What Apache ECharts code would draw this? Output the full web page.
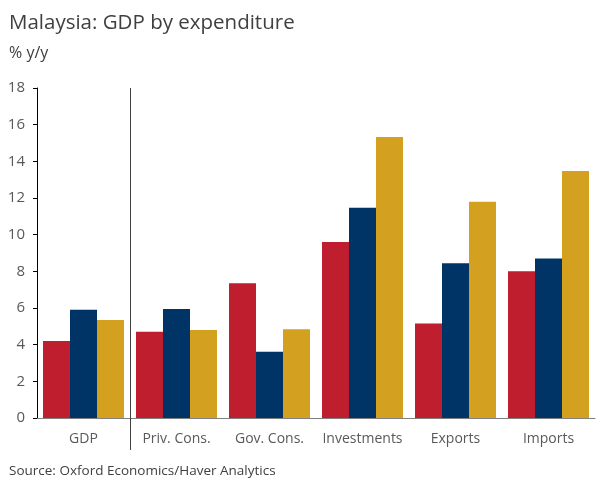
<!DOCTYPE html>
<html><head><meta charset="utf-8">
<script src="https://cdn.jsdelivr.net/npm/echarts@6/dist/echarts.min.js"></script>
<style>html,body{margin:0;padding:0;background:#fff}#c{width:608px;height:486px}</style>
</head><body><div id="c"></div>
<script>
const categories = ['GDP', 'Priv. Cons.', 'Gov. Cons.', 'Investments', 'Exports', 'Imports'];
const series1 = [4.2, 4.7, 7.35, 9.6, 5.15, 8.0];
const series2 = [5.9, 5.95, 3.62, 11.47, 8.44, 8.7];
const series3 = [5.35, 4.8, 4.84, 15.33, 11.8, 13.47];
const yTicks = [0, 2, 4, 6, 8, 10, 12, 14, 16, 18];
const separatorAt = [1]; // boundary after "GDP"
const colors = ['#BE1E2D', '#003366', '#D4A020'];
const font = '"Open Sans", "Noto Sans", sans-serif';

const chart = echarts.init(document.getElementById('c'));
function mk(name, data, color) {
  return { name, type: 'bar', data, barWidth: 27, barGap: '0%', itemStyle: { color }, emphasis: { disabled: true } };
}
chart.setOption({
  animation: false,
  textStyle: { fontFamily: font },
  title: [
    { text: 'Malaysia: GDP by expenditure', left: 4, top: 8, textStyle: { fontFamily: font, fontSize: 20.5, fontWeight: 'normal', color: '#404040' } },
    { text: '% y/y', left: 4, top: 40, textStyle: { fontFamily: font, fontSize: 16, fontWeight: 'normal', color: '#404040' } },
    { text: 'Source: Oxford Economics/Haver Analytics', left: 4, top: 459, textStyle: { fontFamily: font, fontSize: 13.5, fontWeight: 'normal', color: '#404040' } }
  ],
  grid: { left: 37, right: 13, top: 88, bottom: 68 },
  xAxis: [{
    type: 'category', data: categories,
    axisLine: { lineStyle: { color: '#808080', width: 1 } },
    axisTick: { show: false },
    splitLine: { show: false },
    axisLabel: { fontFamily: font, fontSize: 14, color: '#595959', margin: 14, interval: 0 }
  }, {
    type: 'value', min: 0, max: categories.length, position: 'bottom',
    axisLine: { show: false },
    axisLabel: { show: false },
    axisTick: { show: true, customValues: separatorAt, length: 32, lineStyle: { color: '#404040' } },
    splitLine: { show: true, customValues: separatorAt, lineStyle: { color: '#404040', width: 1 } }
  }],
  yAxis: {
    type: 'value', min: yTicks[0], max: yTicks[yTicks.length - 1], interval: 2,
    axisLine: { show: true, lineStyle: { color: '#000', width: 1 } },
    axisTick: { show: true, inside: false, length: 4, lineStyle: { color: '#000' } },
    splitLine: { show: false },
    axisLabel: { fontFamily: font, fontSize: 15, color: '#595959', margin: 12 }
  },
  series: [mk('s1', series1, colors[0]), mk('s2', series2, colors[1]), mk('s3', series3, colors[2])]
});
</script></body></html>
